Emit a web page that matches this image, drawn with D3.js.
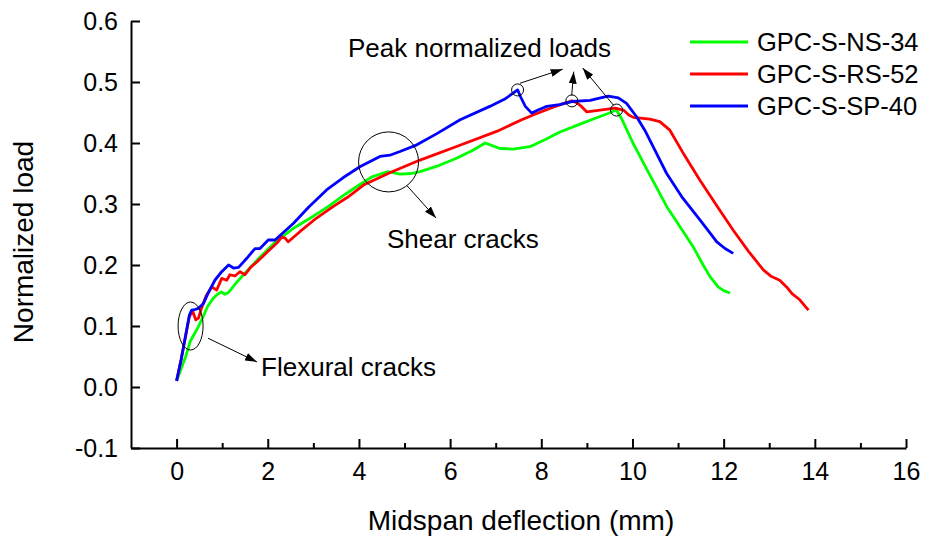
<!DOCTYPE html>
<html>
<head>
<meta charset="utf-8">
<script src="https://cdn.jsdelivr.net/npm/d3@7/dist/d3.min.js"></script>
<style>
  body { margin: 0; background: #fff; }
  svg text { font-family: Arial, "Liberation Sans", sans-serif; fill: #000; }
</style>
</head>
<body>
<svg id="chart" width="927" height="538"></svg>
<script>
// series names & colours
var seriesNames = ['GPC-S-NS-34', 'GPC-S-RS-52', 'GPC-S-SP-40'];
var seriesColors = ['#00ff00', '#ff0000', '#0000ff'];

// GPC-S-NS-34 (green)
var nsX = [0, 0.1, 0.2, 0.3, 0.45, 0.58, 0.68, 0.8, 0.9, 0.98, 1.06, 1.14, 1.3, 1.54, 1.83, 2.2, 2.6, 3.0,
           3.37, 3.7, 4.02, 4.3, 4.64, 4.9, 5.15, 5.34, 5.75, 6.14, 6.5, 6.77, 6.88, 7.09, 7.38, 7.75, 8.1,
           8.41, 8.85, 9.2, 9.45, 9.65, 9.78, 10.01, 10.4, 10.75, 11.05, 11.33, 11.55, 11.7, 11.88, 12.0, 12.14];
var nsY = [0.01, 0.03, 0.05, 0.075, 0.095, 0.115, 0.132, 0.145, 0.152, 0.156, 0.152, 0.155, 0.17, 0.19, 0.213,
           0.24, 0.262, 0.28, 0.298, 0.316, 0.332, 0.345, 0.353, 0.349, 0.35, 0.353, 0.363, 0.375, 0.388, 0.4,
           0.397, 0.391, 0.39, 0.394, 0.406, 0.418, 0.431, 0.441, 0.448, 0.454, 0.437, 0.4, 0.345, 0.296,
           0.262, 0.23, 0.2, 0.181, 0.164, 0.158, 0.154];

// GPC-S-RS-52 (red)
var rsX = [0, 0.1, 0.2, 0.28, 0.35, 0.42, 0.48, 0.55, 0.65, 0.77, 0.88, 0.99, 1.1, 1.17, 1.28, 1.39, 1.5,
           1.61, 1.76, 2.0, 2.2, 2.31, 2.38, 2.45, 2.71, 3.07, 3.44, 3.75, 4.1, 4.7, 5.34, 6.2, 7.02, 7.57,
           7.82, 8.2, 8.5, 8.67, 8.78, 8.88, 9.0, 9.29, 9.62, 9.8, 9.92, 10.02, 10.38, 10.6, 10.82, 11.1,
           11.48, 11.85, 12.21, 12.55, 12.87, 13.05, 13.23, 13.38, 13.5, 13.67, 13.78, 13.86];
var rsY = [0.01, 0.045, 0.085, 0.115, 0.125, 0.11, 0.113, 0.13, 0.15, 0.164, 0.159, 0.178, 0.175, 0.184,
           0.182, 0.189, 0.184, 0.195, 0.205, 0.222, 0.236, 0.246, 0.244, 0.238, 0.255, 0.277, 0.296, 0.311,
           0.331, 0.352, 0.372, 0.396, 0.419, 0.438, 0.446, 0.457, 0.465, 0.469, 0.466, 0.46, 0.451, 0.454,
           0.457, 0.454, 0.446, 0.442, 0.439, 0.435, 0.421, 0.385, 0.339, 0.297, 0.257, 0.222, 0.192, 0.181,
           0.175, 0.164, 0.153, 0.143, 0.133, 0.126];

// GPC-S-SP-40 (blue)
var spX = [0, 0.1, 0.2, 0.28, 0.33, 0.4, 0.48, 0.59, 0.7, 0.84, 0.99, 1.14, 1.25, 1.36, 1.54, 1.72, 1.83,
           2.01, 2.16, 2.56, 2.9, 3.29, 3.65, 4.02, 4.46, 4.68, 4.9, 5.27, 5.7, 6.22, 6.87, 7.2, 7.48, 7.55,
           7.65, 7.79, 7.93, 8.12, 8.4, 8.67, 9.07, 9.3, 9.47, 9.69, 9.87, 10.09, 10.27, 10.5, 10.75, 11.1,
           11.48, 11.85, 12.03, 12.21];
var spY = [0.01, 0.045, 0.085, 0.118, 0.126, 0.127, 0.129, 0.137, 0.155, 0.175, 0.189, 0.2, 0.195, 0.196,
           0.211, 0.227, 0.227, 0.241, 0.241, 0.268, 0.295, 0.323, 0.343, 0.361, 0.378, 0.38, 0.386, 0.397,
           0.415, 0.438, 0.46, 0.472, 0.487, 0.475, 0.46, 0.449, 0.454, 0.46, 0.463, 0.468, 0.47, 0.474,
           0.477, 0.474, 0.465, 0.443, 0.421, 0.387, 0.35, 0.31, 0.274, 0.238, 0.227, 0.219];

// axis ticks
var xMajorTicks = [0, 2, 4, 6, 8, 10, 12, 14, 16];
var xMinorTicks = [1, 3, 5, 7, 9, 11, 13, 15];
var yTicks = [-0.1, 0, 0.1, 0.2, 0.3, 0.4, 0.5, 0.6];

// annotations (data units)
var peakPoints = [[7.48, 0.487], [8.67, 0.469], [9.65, 0.454]];
var peakArrows = [[7.533, 0.498, 8.469, 0.521], [8.667, 0.478, 8.711, 0.517], [9.594, 0.461, 8.908, 0.523]];
var peakLabel = {text: 'Peak normalized loads', x: 3.761, y: 0.541};
var shearCircle = [4.65, 0.369];
var shearArrow = [5.054, 0.33, 5.69, 0.277];
var shearLabel = {text: 'Shear cracks', x: 4.616, y: 0.228};
var flexEllipse = [0.307, 0.1];
var flexArrow = [0.69, 0.08, 1.765, 0.041];
var flexLabel = {text: 'Flexural cracks', x: 1.853, y: 0.018};

var svg = d3.select('#chart');
var W = 927, H = 538;
var margin = {left: 131, right: 21, top: 21, bottom: 90};

var x = d3.scaleLinear().domain([-1, 16]).range([margin.left, W - margin.right]);
var y = d3.scaleLinear().domain([-0.1, 0.6]).range([H - margin.bottom, margin.top]);

// plain hyphen for negatives, like the source figure
var yFmt = v => d3.format('.1f')(v).replace('\u2212', '-');

// axes
var xAxis = svg.append('g')
    .attr('transform', 'translate(0,' + y(-0.1) + ')')
    .call(d3.axisBottom(x).tickValues(xMajorTicks).tickSize(-9).tickSizeOuter(0).tickPadding(14)
        .tickFormat(d3.format('d')));
var xMinor = svg.append('g')
    .attr('transform', 'translate(0,' + y(-0.1) + ')')
    .call(d3.axisBottom(x).tickValues(xMinorTicks).tickSize(-5).tickSizeOuter(0).tickFormat(''));
xMinor.select('.domain').remove();

var yAxis = svg.append('g')
    .attr('transform', 'translate(' + x(-1) + ',0)')
    .call(d3.axisLeft(y).tickValues(yTicks).tickSize(-9).tickSizeOuter(0).tickPadding(13)
        .tickFormat(yFmt));

svg.selectAll('.domain').attr('stroke', '#000').attr('stroke-width', 2);
svg.selectAll('.tick line').attr('stroke', '#000').attr('stroke-width', 2);
svg.selectAll('.tick text').attr('font-size', 25).attr('font-family', 'Arial, "Liberation Sans", sans-serif');
yAxis.selectAll('.tick text').attr('dy', '0.35em');

// axis titles
svg.append('text')
    .attr('x', 521).attr('y', 530)
    .attr('text-anchor', 'middle')
    .attr('font-size', 28)
    .text('Midspan deflection (mm)');
svg.append('text')
    .attr('transform', 'translate(33,242) rotate(-90)')
    .attr('text-anchor', 'middle')
    .attr('font-size', 28)
    .text('Normalized load');

// curves
var series = [
    {name: seriesNames[0], color: seriesColors[0], xs: nsX, ys: nsY},
    {name: seriesNames[1], color: seriesColors[1], xs: rsX, ys: rsY},
    {name: seriesNames[2], color: seriesColors[2], xs: spX, ys: spY}
];
var line = d3.line()
    .x(d => x(d[0]))
    .y(d => y(d[1]));

svg.append('g').attr('class', 'curves')
    .selectAll('path')
    .data(series)
    .enter().append('path')
    .attr('fill', 'none')
    .attr('stroke', d => d.color)
    .attr('stroke-width', 2.8)
    .attr('stroke-linejoin', 'round')
    .attr('d', d => line(d.xs.map((v, i) => [v, d.ys[i]])));

// legend
var legend = svg.append('g').attr('class', 'legend');
var legendRows = [42, 74, 106];
series.forEach((s, i) => {
    legend.append('line')
        .attr('x1', 690).attr('x2', 748)
        .attr('y1', legendRows[i]).attr('y2', legendRows[i])
        .attr('stroke', s.color).attr('stroke-width', 2.8);
    legend.append('text')
        .attr('x', 757).attr('y', legendRows[i] + 9)
        .attr('font-size', 25.5)
        .text(s.name);
});

// annotations
var defs = svg.append('defs');
defs.append('marker')
    .attr('id', 'arrow')
    .attr('viewBox', '0 0 12 8')
    .attr('refX', 12).attr('refY', 4)
    .attr('markerWidth', 12).attr('markerHeight', 8)
    .attr('markerUnits', 'userSpaceOnUse')
    .attr('orient', 'auto')
  .append('path')
    .attr('d', 'M0,0 L12,4 L0,8 z')
    .attr('fill', '#000');

var notes = svg.append('g').attr('class', 'notes')
    .attr('fill', 'none').attr('stroke', '#000').attr('stroke-width', 1);

function arrow(a) {
    notes.append('line')
        .attr('x1', x(a[0])).attr('y1', y(a[1]))
        .attr('x2', x(a[2])).attr('y2', y(a[3]))
        .attr('marker-end', 'url(#arrow)');
}

notes.append('ellipse')
    .attr('cx', x(flexEllipse[0])).attr('cy', y(flexEllipse[1]))
    .attr('rx', 12.5).attr('ry', 24);
arrow(flexArrow);

notes.append('circle')
    .attr('cx', x(shearCircle[0])).attr('cy', y(shearCircle[1]))
    .attr('r', 30);
arrow(shearArrow);

peakPoints.forEach(p => {
    notes.append('circle')
        .attr('cx', x(p[0])).attr('cy', y(p[1]))
        .attr('r', 6);
});
peakArrows.forEach(arrow);

[flexLabel, shearLabel, peakLabel].forEach(l => {
    svg.append('text')
        .attr('x', x(l.x)).attr('y', y(l.y))
        .attr('font-size', 26)
        .text(l.text);
});
</script>
</body>
</html>
